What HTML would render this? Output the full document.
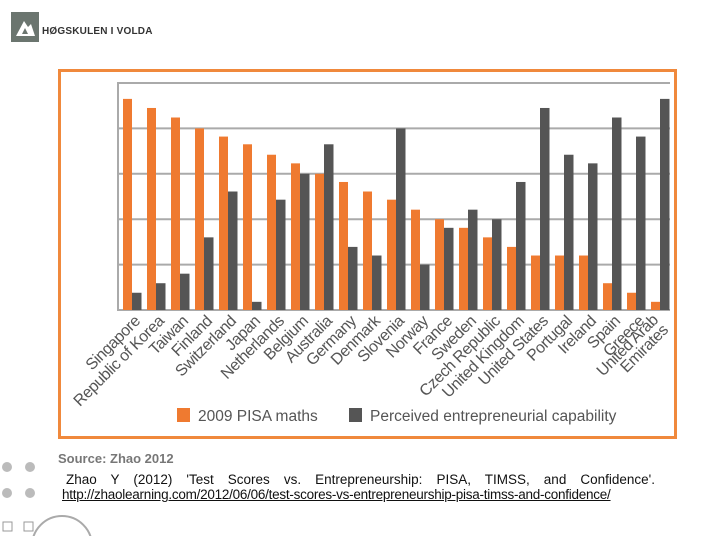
<!DOCTYPE html>
<html><head><meta charset="utf-8"><style>
html,body{margin:0;width:720px;height:540px;background:#fff;overflow:hidden;position:relative;font-family:"Liberation Sans",sans-serif}
svg{display:block}
</style></head><body>
<div style="position:absolute;left:11px;top:12px;width:28px;height:30px;background:#6b756f"></div>
<svg style="position:absolute;left:11px;top:12px" width="28" height="30"><path d="M5 24 L13 9 L17 15 L20 12 L24 24 Z" fill="#fff"/><path d="M11 22 L14 16 L17 22 Z" fill="#6b756f"/></svg>
<div style="position:absolute;left:42px;top:26px;font-size:10px;font-weight:bold;color:#333;letter-spacing:0.2px">HØGSKULEN I VOLDA</div>

<svg id="chart" width="720" height="540" style="position:absolute;left:0;top:0"></svg>

<div style="position:absolute;left:58px;top:451px;font-size:13px;font-weight:bold;color:#777">Source: Zhao 2012</div>
<div style="position:absolute;left:66px;top:472px;width:589px;font-size:13.5px;color:#111;text-align:justify;text-align-last:justify;line-height:15px">Zhao Y (2012) 'Test Scores vs. Entrepreneurship: PISA, TIMSS, and Confidence'.</div>
<a style="position:absolute;left:62px;top:487px;font-size:13.5px;color:#111;text-decoration:underline;letter-spacing:-0.25px;line-height:15px">http://zhaolearning.com/2012/06/06/test-scores-vs-entrepreneurship-pisa-timss-and-confidence/</a>

<svg width="120" height="76" style="position:absolute;left:0;top:460px">
<circle cx="7" cy="7" r="5" fill="#bbb"/><circle cx="30" cy="7" r="5" fill="#bbb"/>
<circle cx="7" cy="33" r="5" fill="#bbb"/><circle cx="30" cy="33" r="5" fill="#bbb"/>
<rect x="3" y="62" width="9" height="9" fill="none" stroke="#999"/><rect x="24" y="62" width="9" height="9" fill="none" stroke="#999"/>
<circle cx="62" cy="86" r="30" fill="none" stroke="#aaa" stroke-width="2"/>
</svg>

<script>
const categories=["Singapore","Republic of Korea","Taiwan","Finland","Switzerland","Japan","Netherlands","Belgium","Australia","Germany","Denmark","Slovenia","Norway","France","Sweden","Czech Republic","United Kingdom","United States","Portugal","Ireland","Spain","Greece","United Arab Emirates"];
const pisa=[4.65,4.45,4.24,4.0,3.82,3.65,3.42,3.23,3.0,2.82,2.61,2.43,2.21,2.0,1.81,1.6,1.39,1.2,1.2,1.2,0.59,0.38,0.18];
const capability=[0.38,0.59,0.8,1.6,2.61,0.18,2.43,3.0,3.65,1.39,1.2,4.0,1.0,1.81,2.21,2.0,2.82,4.45,3.42,3.23,4.24,3.82,4.65];
const yTicks=[0,1,2,3,4,5];
const NS="http://www.w3.org/2000/svg";
const svg=document.getElementById('chart');
const X0=118,X1=670,Y0=310,Y1=83,YMAX=5;
const step=(X1-X0)/categories.length;
const y=v=>Y0-(v/YMAX)*(Y0-Y1);
const xg=i=>X0+i*step+5;
function mk(t,a){const e=document.createElementNS(NS,t);for(const k in a)e.setAttribute(k,a[k]);svg.appendChild(e);return e;}
let b=mk('rect',{x:59.5,y:70.5,width:616,height:367,fill:'none',stroke:'#f0893c','stroke-width':3});


yTicks.forEach(t=>{const l=mk('line',{x1:X0,x2:X1,y1:y(t),y2:y(t),stroke:'#aaa','stroke-width':2});

});
let ax=mk('line',{x1:X0,x2:X0,y1:Y1-1,y2:Y0+1,stroke:'#aaa','stroke-width':2});


function label(str,tx,ty){
 const t=mk('text',{x:tx,y:ty,'text-anchor':'end','font-size':16,fill:'#555',transform:`rotate(-45 ${tx} ${ty})`,'font-family':'Liberation Sans, sans-serif','letter-spacing':'-0.4'});
 t.textContent=str;
 
 
}
categories.forEach((c,i)=>{
 const r1=mk('rect',{x:xg(i),y:y(pisa[i]),width:9,height:Y0-y(pisa[i]),fill:'#ef7a30'});
 
 
 const r2=mk('rect',{x:xg(i)+9,y:y(capability[i]),width:9.5,height:Y0-y(capability[i]),fill:'#555'});
 
 
 const tx=xg(i)+18,ty=Y0+12;
 if(c==="United Arab Emirates"){label("United Arab",tx-10,ty-1);label("Emirates",tx,ty+9);}
 else label(c,tx,ty);
});
const leg=[["2009 PISA maths","#ef7a30",177],["Perceived entrepreneurial capability","#555",349]];
leg.forEach(([n,c,x])=>{const r=mk('rect',{x:x,y:408,width:13,height:14,fill:c});


const t=mk('text',{x:x+21,y:421,'font-size':15.5,fill:'#555','font-family':'Liberation Sans, sans-serif'});t.textContent=n;

});
</script>
</body></html>
